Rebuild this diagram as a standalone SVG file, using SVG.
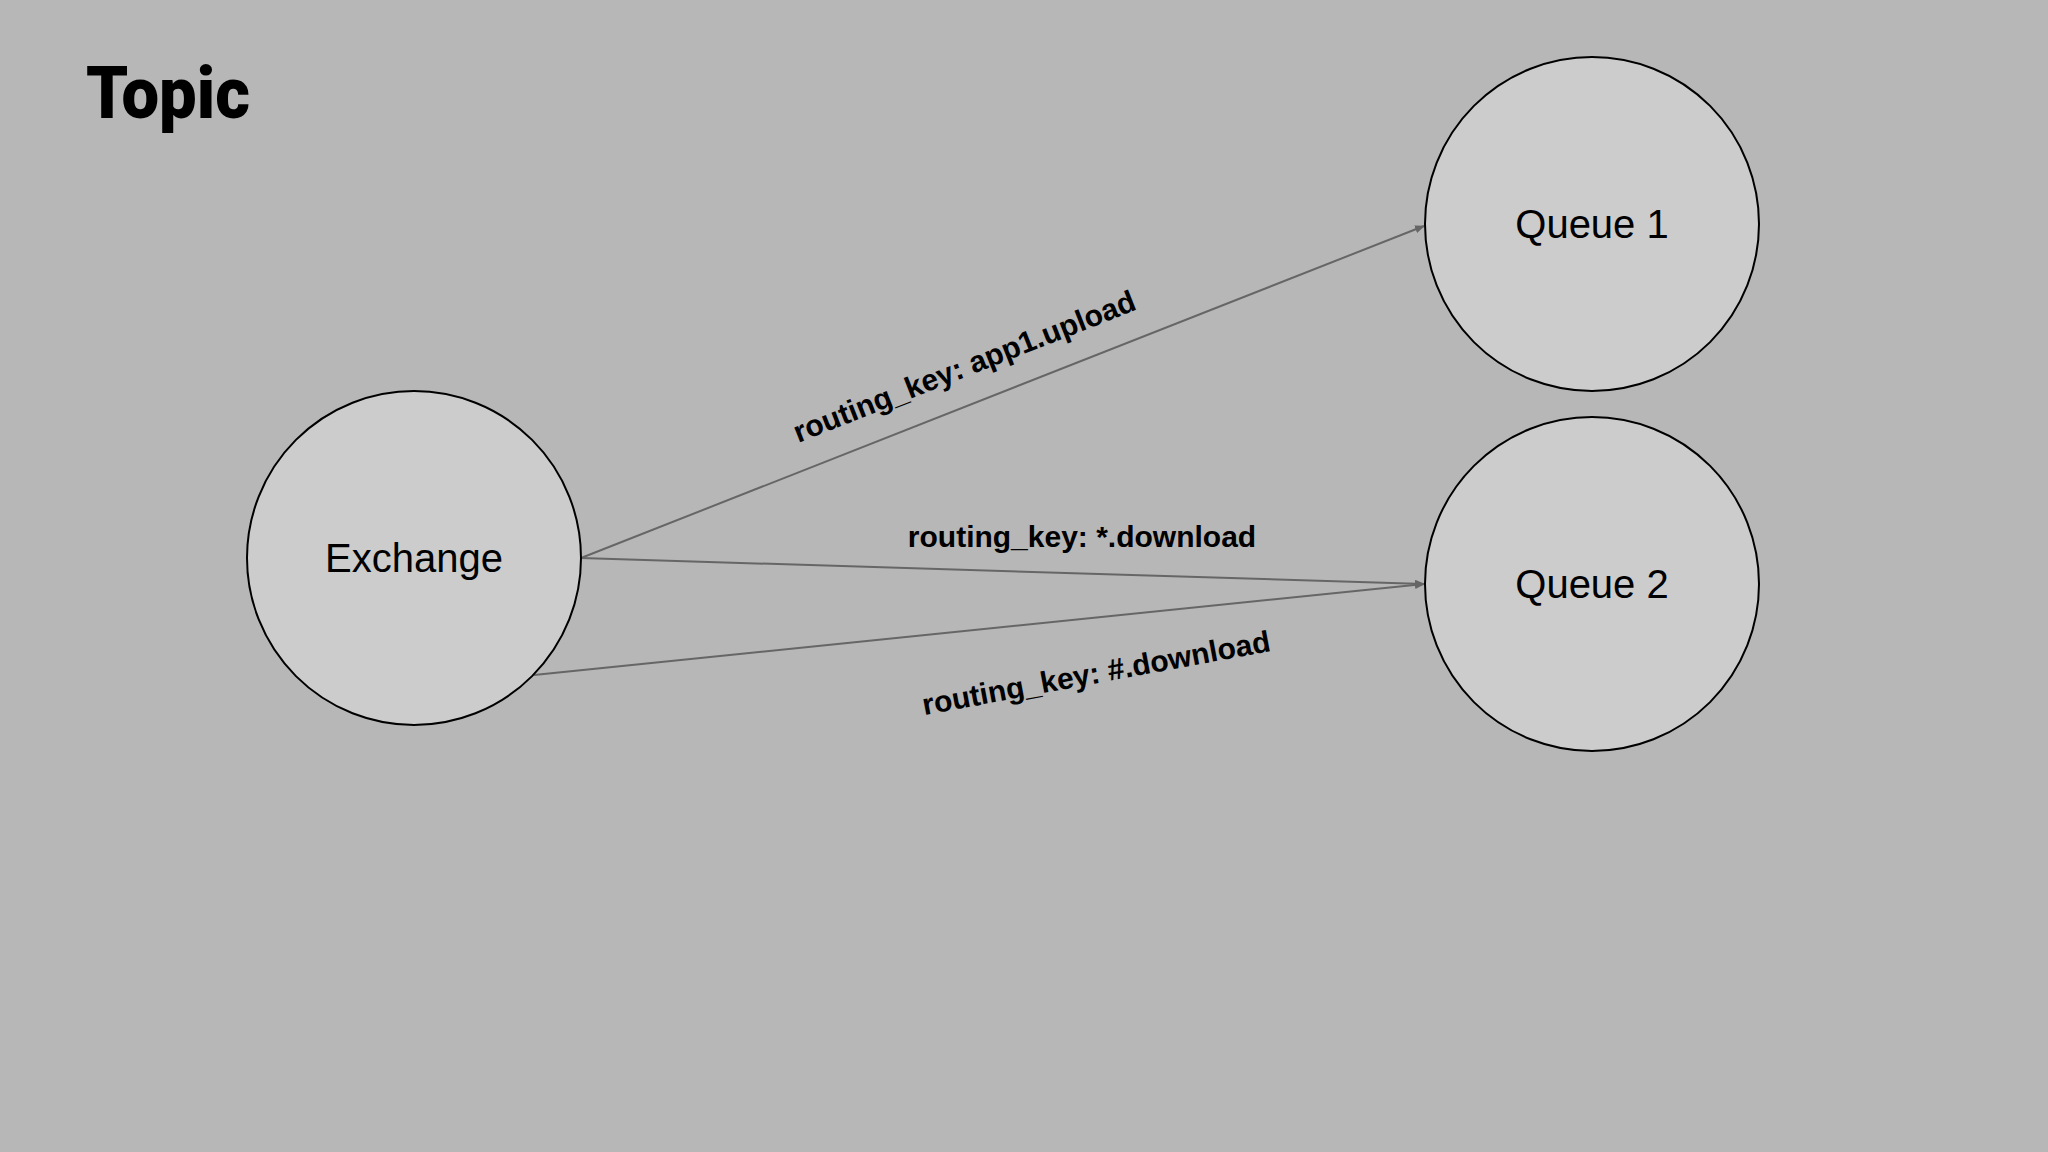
<svg xmlns="http://www.w3.org/2000/svg" width="2048" height="1152" viewBox="0 0 2048 1152">
<style>
.node{fill:#cccccc;stroke:#000;stroke-width:2}
.nl{font-family:"Liberation Sans",Arial,sans-serif;font-size:40px;fill:#000;text-anchor:middle;dominant-baseline:central}
.el{font-family:"Liberation Sans",Arial,sans-serif;font-size:30px;font-weight:bold;fill:#000;text-anchor:middle}
.edge{stroke:#666;stroke-width:2;fill:none;marker-end:url(#ah)}
</style>
<defs><marker id="ah" markerWidth="10" markerHeight="8" refX="9" refY="4" orient="auto" markerUnits="userSpaceOnUse"><path d="M0,0L10,4L0,8z" fill="#666"/></marker></defs>
<rect width="2048" height="1152" fill="#b7b7b7"/>
<text x="86" y="118" font-family="Roboto,'Liberation Sans',sans-serif" font-weight="900" font-size="72" textLength="164" lengthAdjust="spacingAndGlyphs">Topic</text>
<g id="connectors">
<line class="edge" x1="581" y1="558" x2="1424" y2="226"/>
<line class="edge" x1="581" y1="558" x2="1424" y2="584"/>
<line class="edge" x1="534" y1="675" x2="1424" y2="584"/>
<text class="el" transform="translate(968,376) rotate(-21.5)">routing_key: app1.upload</text>
<text class="el" x="1082" y="547">routing_key: *.download</text>
<text class="el" transform="translate(1098,683) rotate(-10.5)">routing_key: #.download</text>
</g>
<g id="exchange"><circle class="node" cx="414" cy="558" r="167"/><text class="nl" x="414" y="558">Exchange</text></g>
<g id="queue1"><circle class="node" cx="1592" cy="224" r="167"/><text class="nl" x="1592" y="224">Queue 1</text></g>
<g id="queue2"><circle class="node" cx="1592" cy="584" r="167"/><text class="nl" x="1592" y="584">Queue 2</text></g>
</svg>
